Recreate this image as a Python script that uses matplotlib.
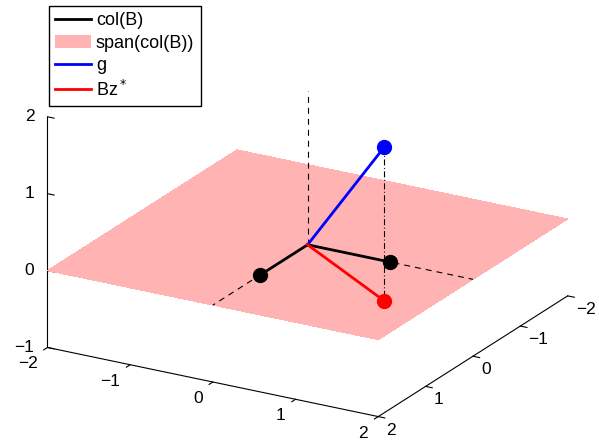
import matplotlib
matplotlib.use('Agg')
import matplotlib.pyplot as plt
import matplotlib.transforms as mtransforms
import numpy as np
from matplotlib.patches import Patch
from matplotlib.lines import Line2D
from matplotlib.text import Text

FontSize = 12.5
plt.rcParams['font.family'] = ['Liberation Sans', 'DejaVu Sans']
plt.rcParams['lines.scale_dashes'] = False

# data
plane_x = [-2, 2]
plane_y = [-2, 2]
col1 = [1, 0, 0]
col2 = [0, 1, 0]
g = [1.5, 1, 2]
Bz = [1.5, 1, 0]
axis_len = 2
xticks = [-2, -1, 0, 1, 2]
yticks = [-2, -1, 0, 1, 2]
zticks = [-1, 0, 1, 2]
xticklabels = ['\u22122', '\u22121', '0', '1', '2']
yticklabels = ['\u22122', '\u22121', '0', '1', '2']
zticklabels = ['\u22121', '0', '1', '2']

pink = (1, 0.7, 0.7)
dash = (0, (4.3, 3.6))
dashdot = (0, (4.3, 1.8, 0.7, 1.8))

fig = plt.figure(figsize=(5.99, 4.43), dpi=100)
# 3d axes are forced square, so make it big enough to cover the whole figure
ax = fig.add_axes([0, -0.159, 1, 1.35], projection='3d', computed_zorder=False, proj_type='ortho')

X, Y = np.meshgrid(plane_x, plane_y)
ax.plot_surface(X, Y, np.zeros_like(X, dtype=float), color=pink, shade=False, linewidth=0,
                antialiased=False, zorder=1)

# dashed coordinate axes
ax.plot([0, axis_len], [0, 0], [0, 0], color='black', linestyle=dash, linewidth=0.8, zorder=2)
ax.plot([0, 0], [0, axis_len], [0, 0], color='black', linestyle=dash, linewidth=0.8, zorder=2)
ax.plot([0, 0], [0, 0], [0, axis_len], color='black', linestyle=dash, linewidth=0.8, zorder=2)
# projection line
ax.plot([g[0], Bz[0]], [g[1], Bz[1]], [g[2], Bz[2]], color='black', linestyle=dashdot,
        linewidth=0.8, zorder=2)

for c in [col1, col2]:
    ax.plot([0, c[0]], [0, c[1]], [0, c[2]], color='black', linewidth=2, zorder=3)
    ax.plot([c[0]], [c[1]], [c[2]], 'o', color='black', markersize=10, zorder=4)
ax.plot([0, g[0]], [0, g[1]], [0, g[2]], color='blue', linewidth=2, zorder=3)
ax.plot([g[0]], [g[1]], [g[2]], 'o', color='blue', markersize=10, zorder=4)
ax.plot([0, Bz[0]], [0, Bz[1]], [0, Bz[2]], color='red', linewidth=2, zorder=3)
ax.plot([Bz[0]], [Bz[1]], [Bz[2]], 'o', color='red', markersize=10, zorder=4)

ax.set_xlim(-2, 2)
ax.set_ylim(2, -2)
ax.set_zlim(-1, 2)
ax.set_xticks(xticks)
ax.set_yticks(yticks)
ax.set_zticks(zticks)
# built-in labels off, placed by hand below
ax.tick_params(axis='x', labelbottom=False, labeltop=False)
ax.tick_params(axis='y', labelleft=False, labelright=False)
ax.tick_params(axis='z', labelleft=False, labelright=False)
ax.set_box_aspect((4, 4, 2.6), zoom=0.963)
ax.view_init(elev=21.4, azim=-60.2)
ax.grid(False)
ax.zaxis.set_ticks_position('upper')
for a in [ax.xaxis, ax.yaxis, ax.zaxis]:
    a.set_pane_color((1, 1, 1, 0))
    a.line.set_color('black')
    a.line.set_linewidth(0.8)
    a._axinfo['tick']['outward_factor'] = 0.0
    a._axinfo['tick']['inward_factor'] = 0.25
    a._axinfo['tick']['linewidth'] = {True: 0.8, False: 0.5}

# tick labels, MATLAB style placement
xoff = mtransforms.offset_copy(ax.transData, fig=fig, x=-10, y=-9, units='dots')
yoff = mtransforms.offset_copy(ax.transData, fig=fig, x=8, y=-6, units='dots')
zoff = mtransforms.offset_copy(ax.transData, fig=fig, x=-13, y=0, units='dots')
for v, s in zip(xticks, xticklabels):
    ax.text(v, 2, -1, s, transform=xoff, ha='right', va='top', fontsize=FontSize)
for v, s in zip(yticks, yticklabels):
    ax.text(2, v, -1, s, transform=yoff, ha='left', va='top', fontsize=FontSize)
for v, s in zip(zticks, zticklabels):
    ax.text(-2, 2, v, s, transform=zoff, ha='right', va='center', fontsize=FontSize)

handles = [Line2D([], [], color='black', linewidth=2),
           Patch(facecolor=pink, edgecolor='none'),
           Line2D([], [], color='blue', linewidth=2),
           Line2D([], [], color='red', linewidth=2)]
labels = ['col(B)', 'span(col(B))', 'g', 'Bz$^*$']
fig.legend(handles, labels, loc='upper left', bbox_to_anchor=(49 / 599, 1 - 6 / 443), fontsize=13,
           frameon=True, edgecolor='black', fancybox=False, framealpha=1,
           handlelength=1.95, borderpad=0.35, labelspacing=0.3, handletextpad=0.3,
           borderaxespad=0)

# hide the empty text objects (titles, axis labels, unused tick labels)
fig.canvas.draw()
for t in fig.findobj(Text):
    if t.get_text() == '':
        t.set_visible(False)

fig.savefig('out.png', dpi=100)
